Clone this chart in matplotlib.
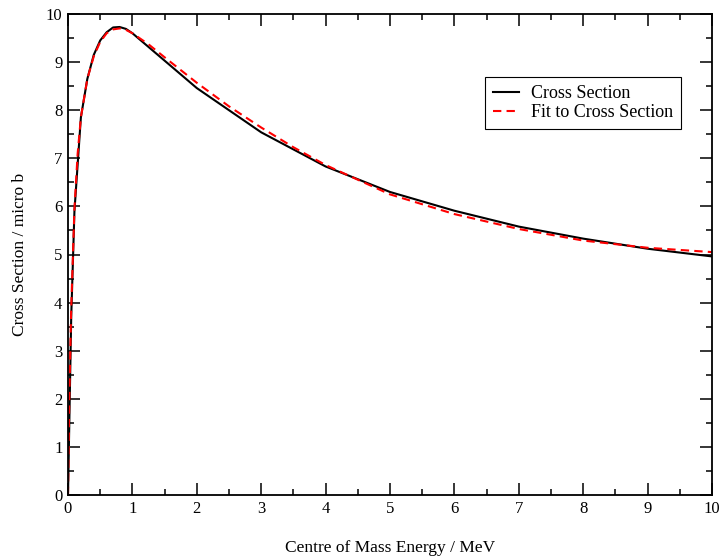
import matplotlib.pyplot as plt
from matplotlib.ticker import MultipleLocator

plt.rcParams['font.family'] = ['Liberation Serif', 'DejaVu Serif']

# Cross section
energy = [0, 0.05, 0.1, 0.2, 0.3, 0.4, 0.5, 0.6, 0.7, 0.8, 0.9, 1.0,
          2, 3, 4, 5, 6, 7, 8, 9, 10]
sigma = [0, 3.7, 5.9, 7.85, 8.65, 9.15, 9.45, 9.62, 9.72, 9.73, 9.69, 9.6,
         8.46, 7.54, 6.83, 6.30, 5.91, 5.58, 5.33, 5.12, 4.96]

# Fit to cross section
fit_energy = [0, 0.02, 0.05, 0.1, 0.15, 0.2, 0.3, 0.4, 0.5, 0.6, 0.7, 0.8, 0.9,
              1.0, 1.25, 1.5, 2, 2.5, 3, 3.5, 4, 5, 6, 7, 8, 9, 10]
fit_sigma = [0, 2.0, 3.9, 5.95, 7.1, 7.85, 8.65, 9.12, 9.42, 9.6, 9.68, 9.7, 9.67,
             9.6, 9.37, 9.1, 8.57, 8.08, 7.64, 7.23, 6.86, 6.25, 5.84, 5.53, 5.29,
             5.14, 5.05]

fig = plt.figure(figsize=(7.2, 5.58), dpi=100)
ax = fig.add_axes([68/720, 63/558, 644/720, 481/558])

ax.plot(energy, sigma, color='black', lw=1.5, label='Cross Section')
ax.plot(fit_energy, fit_sigma, color='red', lw=1.5, ls=(0, (4, 2.5)),
        label='Fit to Cross Section')

ax.set_xlim(0, 10)
ax.set_ylim(0, 10)
ax.xaxis.set_major_locator(MultipleLocator(1))
ax.xaxis.set_minor_locator(MultipleLocator(0.5))
ax.yaxis.set_major_locator(MultipleLocator(1))
ax.yaxis.set_minor_locator(MultipleLocator(0.5))
ax.tick_params(which='both', direction='in', top=True, right=True,
               labelsize=12, width=1.1)
ax.tick_params(which='major', length=8.5, pad=4)
ax.tick_params(which='minor', length=4.3)
for s in ax.spines.values():
    s.set_linewidth(1.3)

ax.set_xlabel('Centre of Mass Energy / MeV', fontsize=12.5, labelpad=17)
ax.set_ylabel('Cross Section / micro b', fontsize=12.5, labelpad=13)

leg = ax.legend(loc='upper left', bbox_to_anchor=(485/720, 1 - 77/558),
                bbox_transform=fig.transFigure, fontsize=13, fancybox=False,
                framealpha=1, edgecolor='black', borderaxespad=0,
                handlelength=1.45, handletextpad=0.65, labelspacing=0.12,
                borderpad=0.45)
leg.get_frame().set_linewidth(0.8)

fig.savefig('out.png', dpi=100)
